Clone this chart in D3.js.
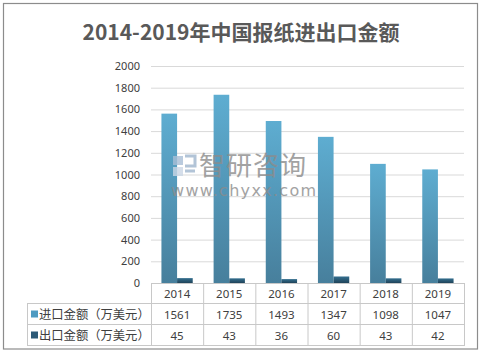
<!DOCTYPE html>
<html><head><meta charset="utf-8">
<script src="https://cdn.jsdelivr.net/npm/d3@7"></script>
<style>
body{margin:0;background:#fff;}
svg{display:block;}
text{font-family:"Noto Sans CJK SC","Noto Sans",sans-serif;}
</style></head>
<body><svg id="c" width="482" height="353"></svg>
<script>
const title = "2014-2019年中国报纸进出口金额";
const years = ["2014","2015","2016","2017","2018","2019"];
const seriesNames = ["进口金额（万美元）","出口金额（万美元）"];
const importVals = [1561,1735,1493,1347,1098,1047];
const exportVals = [45,43,36,60,43,42];
const yTicks = [0,200,400,600,800,1000,1200,1400,1600,1800,2000];

const svg = d3.select("#c");
const plot = {left:151,right:464,top:66,bottom:283};
const rowH = 21;

svg.append("rect").attr("x",3.5).attr("y",3.5).attr("width",474).attr("height",345.5)
  .attr("fill","#fff").attr("stroke","#8c8c8c").attr("stroke-width",1.2);

const defs = svg.append("defs");
function grad(id, c1, c2){
  const g = defs.append("linearGradient").attr("id",id).attr("x1",0).attr("y1",0).attr("x2",0).attr("y2",1);
  g.append("stop").attr("offset","0%").attr("stop-color",c1);
  g.append("stop").attr("offset","100%").attr("stop-color",c2);
}
grad("gImp","#5eadd1","#477f9c");
grad("gExp","#346f8f","#1f4359");
const colors = ["url(#gImp)","url(#gExp)"];
const legendColors = ["#4f9bc1","#2c5a76"];

svg.append("text").attr("x",241).attr("y",40).attr("text-anchor","middle")
  .attr("font-size",21).attr("font-weight","bold").attr("fill","#595959").text(title);

const y = d3.scaleLinear().domain([0,2000]).range([plot.bottom,plot.top]);
const x0 = d3.scaleBand().domain(years).range([plot.left,plot.right]).paddingInner(0.4).paddingOuter(0.2);
const x1 = d3.scaleBand().domain([0,1]).range([0,x0.bandwidth()]);

svg.append("g").selectAll("line").data(yTicks.filter(d=>d>0)).join("line")
  .attr("x1",plot.left).attr("x2",plot.right).attr("y1",d=>y(d)+0.5).attr("y2",d=>y(d)+0.5)
  .attr("stroke","#d9d9d9").attr("stroke-width",1);

const yAxis = d3.axisLeft(y).tickValues(yTicks).tickFormat(d3.format("d")).tickSize(0).tickPadding(0);
const ga = svg.append("g").attr("transform",`translate(140,0)`).call(yAxis);
ga.select(".domain").remove();
ga.selectAll("text").attr("font-size",11).attr("fill","#404040")
  .style("font-family","'Noto Sans','Open Sans',sans-serif");

const data = years.map((yr,i)=>({yr, vals:[importVals[i],exportVals[i]]}));
const groups = svg.append("g").selectAll("g").data(data).join("g")
  .attr("transform",d=>`translate(${x0(d.yr)},0)`);
groups.selectAll("rect").data(d=>d.vals.map((v,k)=>({v,k}))).join("rect")
  .attr("x",d=>x1(d.k)).attr("width",x1.bandwidth())
  .attr("y",d=>y(d.v)).attr("height",d=>y(0)-y(d.v))
  .attr("fill",d=>colors[d.k]);

// watermark (over bars)
const wm = svg.append("g").attr("opacity",0.8);
wm.append("rect").attr("x",173).attr("y",156).attr("width",10).attr("height",9).attr("fill","#a9bfd6");
wm.append("rect").attr("x",173).attr("y",167).attr("width",10).attr("height",9).attr("fill","#cbd7e5");
wm.append("path").attr("d","M185,156 h10 v10 h-10 M185,171 h10").attr("fill","none").attr("stroke","#a0b6ce").attr("stroke-width",3);
wm.append("text").attr("x",199).attr("y",175).attr("font-size",26).attr("fill","#8c8c8c").attr("letter-spacing",1).text("智研咨询");
wm.append("text").attr("x",171).attr("y",196).attr("font-size",16).attr("fill","#8c8c8c")
  .attr("letter-spacing",1.3).style("font-family","'DejaVu Sans',sans-serif").text("www.chyxx.com");

const tLeft = 27, tTop = plot.bottom, step = x0.step();
const tg = svg.append("g");
const lc = "#c8c8c8";
tg.append("line").attr("x1",plot.left).attr("x2",plot.right).attr("y1",tTop+0.5).attr("y2",tTop+0.5).attr("stroke",lc);
[1,2,3].forEach(r=>{
  tg.append("line").attr("x1",tLeft).attr("x2",plot.right).attr("y1",tTop+r*rowH-0.5).attr("y2",tTop+r*rowH-0.5).attr("stroke",lc);
});
d3.range(years.length+1).forEach(i=>{
  const xx = plot.left + i*step;
  tg.append("line").attr("x1",xx+0.5).attr("x2",xx+0.5).attr("y1",tTop).attr("y2",tTop+3*rowH).attr("stroke",lc);
});
tg.append("line").attr("x1",tLeft+0.5).attr("x2",tLeft+0.5).attr("y1",tTop+rowH).attr("y2",tTop+3*rowH).attr("stroke",lc);

tg.selectAll("text.yr").data(years).join("text").attr("class","yr")
  .attr("x",d=>x0(d)+x0.bandwidth()/2).attr("y",tTop+rowH/2+4)
  .attr("text-anchor","middle").attr("font-size",11.5).attr("fill","#404040")
  .style("font-family","'Noto Sans','Open Sans',sans-serif").text(d=>d);

const rows = [importVals, exportVals];
rows.forEach((vals,r)=>{
  const cy = tTop + (r+1)*rowH + rowH/2;
  tg.append("rect").attr("x",31).attr("y",cy-4).attr("width",7).attr("height",7).attr("fill",legendColors[r]);
  tg.append("text").attr("x",39).attr("y",cy+4.5).attr("font-size",12.3).attr("fill","#404040").text(seriesNames[r]);
  tg.selectAll(null).data(vals).join("text")
    .attr("x",(d,i)=>x0(years[i])+x0.bandwidth()/2).attr("y",cy+4)
    .attr("text-anchor","middle").attr("font-size",11.5).attr("fill","#404040")
    .style("font-family","'Noto Sans','Open Sans',sans-serif").text(d=>d);
});
</script></body></html>
